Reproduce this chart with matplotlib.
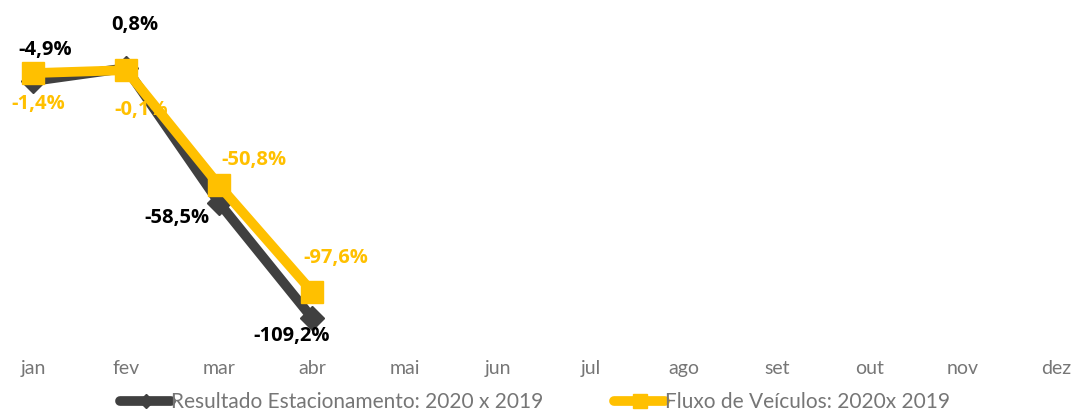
import matplotlib
matplotlib.use("Agg")
from matplotlib import pyplot as plt

plt.rcParams['font.family'] = ['Lato', 'DejaVu Sans']

meses = ['jan', 'fev', 'mar', 'abr', 'mai', 'jun', 'jul', 'ago', 'set', 'out', 'nov', 'dez']
estac = [-4.9, 0.8, -58.5, -109.2]
fluxo = [-1.4, -0.1, -50.8, -97.6]
estac_nome = 'Resultado Estacionamento: 2020 x 2019'
fluxo_nome = 'Fluxo de Veículos: 2020x 2019'

cinza = '#404040'
amarelo = '#FFC000'

fig = plt.figure(figsize=(10.77, 4.16), dpi=100)
ax = fig.add_axes([0, 0.159, 1, 0.841])

x = list(range(len(estac)))
ax.plot(x, estac, color=cinza, lw=7, marker='D', ms=12, zorder=2,
        label=estac_nome, solid_capstyle='round')
ax.plot(x, fluxo, color=amarelo, lw=7, marker='s', ms=16, zorder=3,
        label=fluxo_nome, solid_capstyle='round')

# deslocamentos dos rótulos (pontos)
off_estac = [(9, 22), (6, 31), (-30, -11), (-15, -13)]
off_fluxo = [(4, -22), (11, -29), (25, 18), (17, 24)]

def fmt(v):
    return f'{v:.1f}%'.replace('.', ',')

rotulo = dict(textcoords='offset points', ha='center', va='center',
              fontsize=14.5, fontweight='bold', family=['Open Sans', 'DejaVu Sans'],
              zorder=5)

for i, v in enumerate(estac):
    ax.annotate(fmt(v), (i, v), xytext=off_estac[i], color='black', **rotulo)
for i, v in enumerate(fluxo):
    ax.annotate(fmt(v), (i, v), xytext=off_fluxo[i], color=amarelo, **rotulo)

ax.set_xlim(-0.355, 11.226)
ax.set_ylim(-123.3, 30.8)
ax.set_xticks(range(len(meses)))
ax.set_xticklabels(meses, fontsize=14, color='#767676')
ax.set_yticks([])
ax.tick_params(axis='x', length=0, pad=7)
for s in ax.spines.values():
    s.set_visible(False)

fig.legend(loc='lower center', bbox_to_anchor=(0.497, -0.035), ncol=2,
           frameon=False, handlelength=2.45, handletextpad=0.0,
           columnspacing=3.4, fontsize=15, labelcolor='#767676',
           markerscale=0.6)

plt.savefig('out.png', dpi=100)
